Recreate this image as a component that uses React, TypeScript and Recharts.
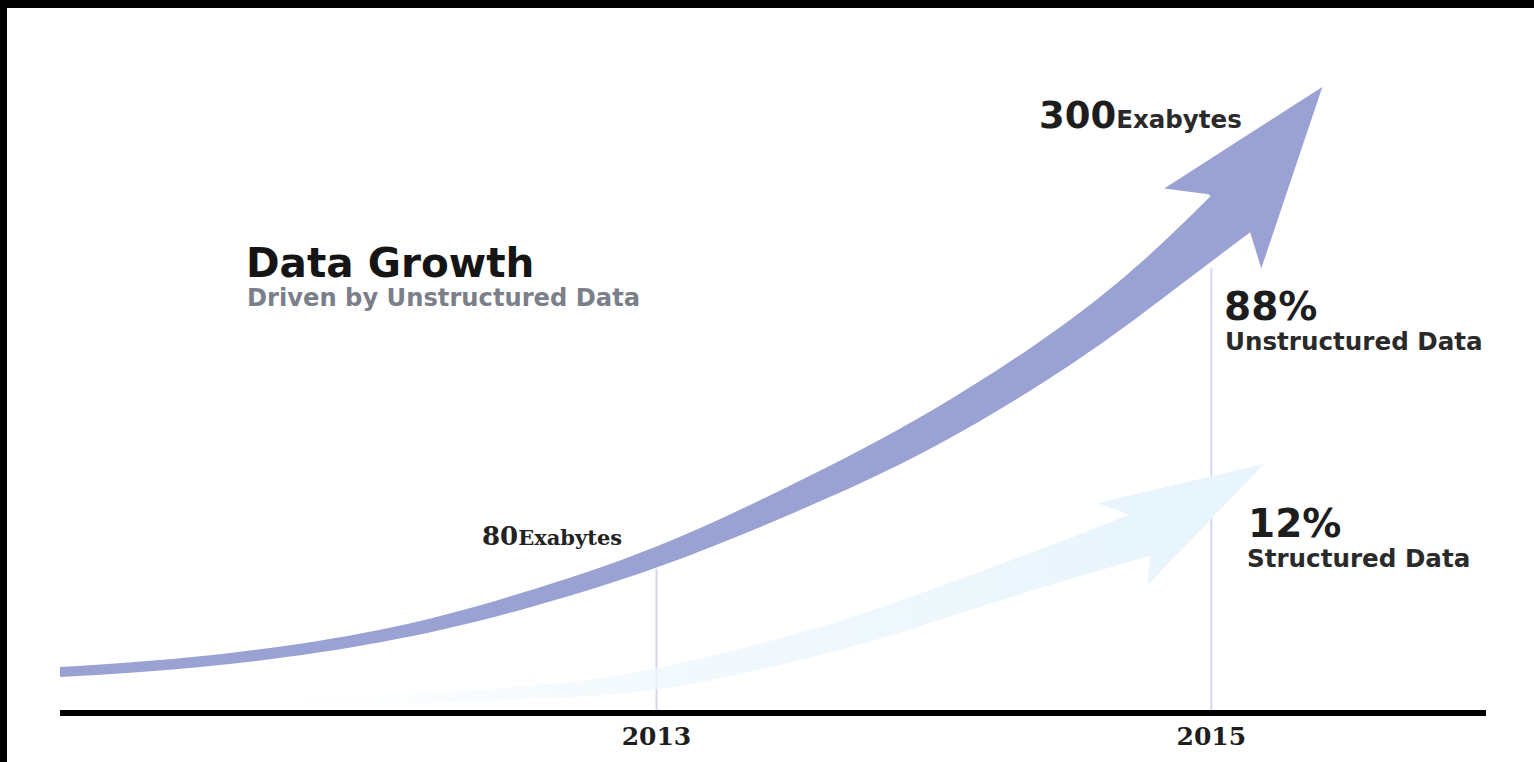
import React from 'react';
import { ComposedChart, Area, Line, Scatter, XAxis, YAxis } from 'recharts';

// x = year, y = data volume in chart units (0 sits on the baseline)
const BIG_YEARS = [2010.85, 2011.4, 2012.0, 2012.5, 2013.0, 2013.5, 2014.0, 2014.5, 2014.85, 2015.14];
const BIG_UPPER = [23.6, 29.8, 42.6, 61, 85.4, 118, 155.8, 202.6, 244.6, 285.5];
const BIG_LOWER = [18.4, 24.2, 36.2, 52.5, 74.6, 103, 136.5, 179.4, 215.4, 246.5];

// arrow head outline: back barb, tip, lower barb, lower notch, upper notch
const BIG_HEAD_YEARS = [2014.83, 2015.4, 2015.18, 2015.14, 2014.99];
const BIG_HEAD_VALUES = [269, 321, 228, 246.5, 266];

const SMALL_YEARS = [2011.17, 2011.6, 2012.1, 2012.6, 2013.0, 2013.5, 2013.9, 2014.3, 2014.6, 2014.78];
const SMALL_UPPER = [4.65, 6.6, 9.4, 14.7, 23, 40.5, 58.75, 79.5, 95.75, 106.6];
const SMALL_LOWER = [3.15, 3.8, 4.8, 7.7, 12, 26.5, 42.25, 60.5, 73.25, 80.6];

const SMALL_HEAD_YEARS = [2014.59, 2015.19, 2014.77, 2014.78, 2014.7];
const SMALL_HEAD_VALUES = [107.7, 127.7, 65.6, 80.6, 101.8];

const GUIDE_YEARS = [2013, 2015];
const GUIDE_TOPS = [74, 228];

const TICKS = [2013, 2015];

const BIG_COLOR = '#9aa1d3';
const SMALL_COLOR = '#e8f5fc';
const GUIDE_COLOR = '#d3d6ee';

const bigShaft = BIG_YEARS.map((year, i) => ({ year, band: [BIG_LOWER[i], BIG_UPPER[i]] }));
const smallShaft = SMALL_YEARS.map((year, i) => ({ year, band: [SMALL_LOWER[i], SMALL_UPPER[i]] }));
const bigHead = BIG_HEAD_YEARS.map((year, i) => ({ year, v: BIG_HEAD_VALUES[i] }));
const smallHead = SMALL_HEAD_YEARS.map((year, i) => ({ year, v: SMALL_HEAD_VALUES[i] }));
const guides = GUIDE_YEARS.map((year, i) => [
  { year, v: 0 },
  { year, v: GUIDE_TOPS[i] },
]);

const NoDot = () => <g />;

const sans = '"DejaVu Sans", Verdana, sans-serif';
const serif = '"DejaVu Serif", Georgia, serif';

export default function App() {
  return (
    <div style={{ position: 'absolute', left: 0, top: 0, width: 1534, height: 762, background: '#000', overflow: 'hidden' }}>
      <div style={{ position: 'absolute', left: 7, top: 8, width: 1527, height: 754, background: '#fff' }} />
      <div style={{ position: 'absolute', left: 0, top: 0 }}>
        <ComposedChart width={1534} height={762} margin={{ top: 11, right: 48, bottom: 0, left: 60 }}>
          <defs>
            <linearGradient id="smallFade" x1="0" y1="0" x2="1" y2="0">
              <stop offset="0%" stopColor="#ffffff" stopOpacity={0} />
              <stop offset="40%" stopColor="#f0f8fd" stopOpacity={0.7} />
              <stop offset="100%" stopColor={SMALL_COLOR} stopOpacity={1} />
            </linearGradient>
          </defs>
          <XAxis
            type="number"
            dataKey="year"
            domain={[2010.85, 2015.99]}
            allowDataOverflow
            ticks={TICKS}
            tickFormatter={(v) => String(v)}
            height={49}
            tickLine={false}
            tickMargin={8}
            axisLine={{ stroke: '#000', strokeWidth: 6 }}
            tick={{ fill: '#1e1e1e', fontFamily: serif, fontWeight: 'bold', fontSize: 25 }}
          />
          <YAxis type="number" hide domain={[0, 360]} allowDataOverflow />
          {guides.map((g, i) => (
            <Line
              key={`guide-${i}`}
              data={g}
              dataKey="v"
              type="linear"
              stroke={GUIDE_COLOR}
              strokeWidth={2}
              dot={false}
              activeDot={false}
              isAnimationActive={false}
              zIndex={50}
            />
          ))}
          <Area
            data={smallShaft}
            dataKey="band"
            type="natural"
            stroke="none"
            fill="url(#smallFade)"
            fillOpacity={1}
            dot={false}
            activeDot={false}
            isAnimationActive={false}
          />
          <Area
            data={bigShaft}
            dataKey="band"
            type="natural"
            stroke="none"
            fill={BIG_COLOR}
            fillOpacity={1}
            dot={false}
            activeDot={false}
            isAnimationActive={false}
          />
          <Scatter
            data={smallHead}
            dataKey="v"
            shape={NoDot}
            line={{ fill: SMALL_COLOR, stroke: 'none' }}
            lineJointType="linear"
            isAnimationActive={false}
          />
          <Scatter
            data={bigHead}
            dataKey="v"
            shape={NoDot}
            line={{ fill: BIG_COLOR, stroke: 'none' }}
            lineJointType="linear"
            isAnimationActive={false}
          />
        </ComposedChart>
      </div>
      <svg width={1534} height={762} style={{ position: 'absolute', left: 0, top: 0, pointerEvents: 'none' }}>
        <text x={246} y={277} fontFamily={sans} fontWeight="bold" fontSize={40.5} fill="#151515">
          Data Growth
        </text>
        <text x={247} y={306} fontFamily={sans} fontWeight="bold" fontSize={24.2} fill="#7b7f8a">
          Driven by Unstructured Data
        </text>
        <text x={1039} y={128} fontFamily={sans} fontWeight="bold" fill="#1d1d1d">
          <tspan fontSize={37}>300</tspan>
          <tspan fontSize={24.5} fill="#2a2a2a">Exabytes</tspan>
        </text>
        <text x={1224} y={320} fontFamily={sans} fontWeight="bold" fontSize={39} fill="#1d1d1d">
          88%
        </text>
        <text x={1225} y={350} fontFamily={sans} fontWeight="bold" fontSize={24.6} fill="#2a2a2a">
          Unstructured Data
        </text>
        <text x={1248} y={537} fontFamily={sans} fontWeight="bold" fontSize={39} fill="#1d1d1d">
          12%
        </text>
        <text x={1247} y={567} fontFamily={sans} fontWeight="bold" fontSize={24.6} fill="#2a2a2a">
          Structured Data
        </text>
        <text x={482} y={545} fontFamily={serif} fontWeight="bold" fill="#222">
          <tspan fontSize={26}>80</tspan>
          <tspan fontSize={21}>Exabytes</tspan>
        </text>
      </svg>
    </div>
  );
}
